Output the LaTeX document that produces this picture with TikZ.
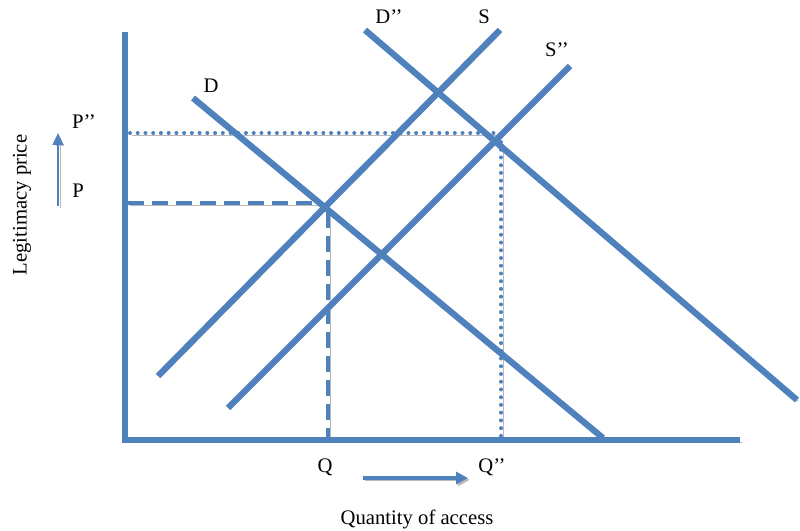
\documentclass[tikz,border=0pt]{standalone}
\usepackage{fontspec}
\setmainfont{Liberation Serif}
\usepackage{tikz}
\usetikzlibrary{arrows.meta}
\definecolor{officeblue}{HTML}{4F81BD}
\tikzset{
    shadowed/.style={preaction={draw=black!28, transform canvas={xshift=1.4pt, yshift=-1.4pt}}},
    curve/.style={officeblue, line width=4.7pt, shadowed},
    axisline/.style={officeblue, line width=5pt, shadowed},
    dashguide/.style={officeblue, line width=3pt, dash pattern=on 12pt off 6pt, shadowed},
    dotguide/.style={officeblue, line width=3pt, dash pattern=on 0pt off 5.8pt, line cap=round, shadowed},
    lbl/.style={font=\fontsize{15.5}{18}\selectfont, inner sep=0pt}
}

\begin{document}
\begin{tikzpicture}[x=0.75pt, y=-0.75pt]
    \useasboundingbox (0, 0) rectangle (800, 531);

    \coordinate (top) at (125, 32);
    \coordinate (O) at (125, 440);
    \coordinate (right) at (740, 440);

    \coordinate (D1) at (193, 98);
    \coordinate (D2) at (603, 438);
    \coordinate (Dpp1) at (365, 30);
    \coordinate (Dpp2) at (797, 400);
    \coordinate (S1) at (158, 376);
    \coordinate (S2) at (500, 30);
    \coordinate (Spp1) at (228, 408);
    \coordinate (Spp2) at (570, 66);

    \node[lbl] at (211, 86) (D) {D};
    \node[lbl] at (389, 17) (Dpp) {D’’};
    \node[lbl] at (484, 17) (S) {S};
    \node[lbl] at (557, 50) (Spp) {S’’};
    \node[lbl] at (84, 122) (Ppp) {P’’};
    \node[lbl] at (78, 191) (P) {P};
    \node[lbl] at (325, 467) (Q) {Q};
    \node[lbl] at (492, 467) (Qpp) {Q’’};
    \node[lbl] at (417, 519) (xlabel) {Quantity of access};
    \node[lbl, rotate=90] at (22, 205) (ylabel) {Legitimacy price};

    % guide lines to the equilibria
    \coordinate (Pa) at (128, 203);
    \coordinate (E) at (322, 203);
    \coordinate (Eb) at (328, 212);
    \coordinate (Qa) at (328, 437);
    \coordinate (Ppa) at (130, 133);
    \coordinate (Epp) at (497, 133);
    \coordinate (Eppb) at (501, 142);
    \coordinate (Qpa) at (501, 437);
    \draw[dashguide] (Pa) -- (E);
    \draw[dashguide] (Eb) -- (Qa);
    \draw[dotguide] (Ppa) -- (Epp);
    \draw[dotguide] (Eppb) -- (Qpa);

    \draw[curve] (D1) -- (D2);
    \draw[curve] (Dpp1) -- (Dpp2);
    \draw[curve] (S1) -- (S2);
    \draw[curve] (Spp1) -- (Spp2);

    \draw[axisline] (top) -- (O) -- (right);

    % direction arrows
    \coordinate (up1) at (58, 206);
    \coordinate (up2) at (58, 133);
    \coordinate (rt1) at (363, 478);
    \coordinate (rt2) at (468, 478);
    \draw[officeblue, line width=1.8pt, shadowed, -{Triangle[length=9pt, width=8pt]}] (up1) -- (up2);
    \draw[officeblue, line width=3.2pt, shadowed, -{Triangle[length=9pt, width=9pt]}] (rt1) -- (rt2);
\end{tikzpicture}
\end{document}
